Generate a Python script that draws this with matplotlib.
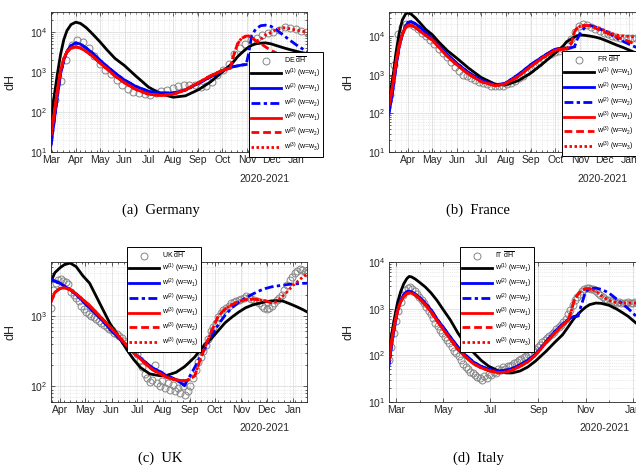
import numpy as np
import matplotlib
matplotlib.use('Agg')
import matplotlib.pyplot as plt
import matplotlib.dates as mdates
from matplotlib.ticker import LogLocator, NullFormatter
from datetime import datetime

plt.rcParams['font.family'] = ['Liberation Sans', 'DejaVu Sans']
plt.rcParams['mathtext.fontset'] = 'custom'
plt.rcParams['mathtext.rm'] = 'Liberation Sans'
plt.rcParams['mathtext.it'] = 'Liberation Sans:italic'
plt.rcParams['mathtext.bf'] = 'Liberation Sans:bold'

# all days are counted from 1 March 2020
t0 = mdates.date2num(datetime(2020, 3, 1))

# ---------------- Germany ----------------
de_days = [0, 4, 8, 12, 16, 20, 25, 31, 37, 44, 52, 61, 70, 80, 92, 106, 122, 138, 153, 168,
           184, 199, 214, 224, 228, 233, 238, 244, 247, 251, 256, 262, 268, 275, 282, 290, 300, 310, 320]
de_w1 = [70, 250, 900, 2800, 6500, 11000, 15500, 17800, 16500, 13000, 9000, 5800, 3600, 2200, 1450, 800,
         420, 280, 235, 255, 360, 560, 1000, 1500, 1800, 2400, 3000, 3800, 4200, 4700, 5100, 5300, 5400,
         5100, 4600, 4100, 3600, 3200, 2900]
de_w2a = [15, 60, 250, 900, 2000, 3300, 4600, 5400, 5000, 4000, 3000, 2000, 1400, 950, 630, 440, 330,
          300, 300, 355, 520, 750, 1080, 1310, 1370, 1430, 1500, 1550]
de_w2b = de_w2a + [2900, 8400, 12000, 14500, 15000, 14000, 11500, 8500, 6000, 4300, 3300]
de_w3a = [27, 90, 350, 1100, 2200, 3200, 4000, 4300, 4000, 3300, 2500, 1700, 1200, 800, 540, 370, 280,
          260, 280, 360, 540, 800, 1100, 1260]
de_w3b = de_w3a + [2500, 5000, 7000, 8000, 8000, 7500, 6000, 5200, 4300, 3500, 3000, 2500, 2000, 1700, 1500]
de_w3c = de_w3a + [2500, 5000, 7000, 8000, 8000, 7500, 6000, 6500, 8500, 9800, 11700, 13000, 12000, 11000, 10000]
de_obs_start, de_obs_step = 5, 7
de_obs = [200, 600, 2000, 4800, 6300, 5600, 4000, 2500, 1600, 1150, 880, 650, 470, 370, 320, 295, 280,
          265, 300, 340, 355, 410, 440, 470, 475, 470, 430, 450, 570, 830, 1100, 1600, 2800, 4000, 5200,
          6300, 7200, 8300, 9300, 10000, 11500, 13300, 12800, 12000, 11000, 10000]

# ---------------- France ----------------
fr_days = [7, 10, 13, 16, 20, 24, 28, 31, 35, 40, 46, 53, 61, 70, 80, 92, 106, 122, 140, 152, 168, 183,
           198, 213, 218, 224, 228, 234, 238, 241, 245, 250, 257, 264, 270, 278, 290, 300, 311, 326]
fr_w1 = [200, 450, 1100, 3500, 11500, 26000, 37000, 40000, 37000, 30000, 22000, 15000, 11000, 6800, 4200,
         2650, 1500, 850, 560, 540, 700, 1080, 1900, 3500, 4300, 5600, 7100, 8500, 9500, 10200, 10600,
         10500, 10000, 9400, 8700, 7500, 5900, 4900, 3900, 3000]
fr_w2a = [90, 200, 500, 1500, 5000, 11000, 18000, 22500, 23500, 21000, 17000, 12500, 8600, 5500, 3300,
          1960, 1150, 730, 530, 600, 1000, 1780, 2900, 4500, 4700, 4700, 4800, 5000, 5300]
fr_w2b = fr_w2a + [8000, 11700, 16000, 19000, 17000, 15000, 13000, 9000, 7000, 5500, 4000]
fr_w3a = [150, 300, 700, 2000, 5500, 11000, 16500, 19000, 19000, 17000, 13500, 10500, 8000, 5000, 3000,
          1780, 1050, 660, 520, 580, 900, 1600, 2700, 4200, 4500, 4600, 4700]
fr_w3b = fr_w3a + [6500, 13000, 16000, 18000, 19000, 18500, 16000, 14000, 12000, 9500, 8000, 6500, 5000]
fr_w3c = fr_w3a + [6500, 13000, 16000, 18000, 19000, 18500, 17000, 16000, 13000, 10600, 10000, 9600, 9500]
fr_obs_start, fr_obs_step = 9, 5
fr_obs = [300, 1800, 11000, 17500, 20000, 21000, 18000, 15000, 12000, 10000, 8000, 6200, 4700, 3600, 2800,
          2100, 1600, 1250, 1000, 900, 800, 720, 650, 600, 560, 520, 500, 500, 520, 560, 620, 700, 800,
          950, 1150, 1400, 1700, 2050, 2500, 3000, 3500, 3900, 4200, 4500, 5500, 8500, 13000, 18000,
          21000, 19500, 17000, 15000, 13500, 12000, 11000, 10200, 9500, 9000, 8800, 8700, 8800, 9000,
          9200, 9300]

# ---------------- UK ----------------
uk_days = [20, 25, 31, 36, 43, 50, 58, 66, 78, 90, 98, 110, 118, 126, 137, 141, 150, 157, 168, 178, 182,
           190, 196, 202, 210, 218, 226, 234, 242, 250, 258, 265, 273, 281, 287, 294, 300, 306, 312, 318, 323]
uk_w1 = [3000, 4100, 4800, 5300, 5600, 5000, 3700, 2900, 1500, 780, 560, 330, 240, 185, 150, 147, 141, 143,
         158, 190, 210, 260, 320, 390, 480, 620, 800, 960, 1130, 1300, 1420, 1500, 1580, 1630, 1640, 1620,
         1520, 1420, 1320, 1220, 1130]
uk_w2a = [3300, 3100, 2900, 2650, 2350, 2000, 1620, 1300, 940, 650, 520, 370, 300, 250, 196, 180, 160,
          141, 125, 103]
uk_w2b = uk_w2a + [125, 185, 255, 340, 520, 755, 1020, 1300, 1560, 1790, 2020, 2230, 2430, 2580, 2650,
                   2720, 2780, 2830, 2860, 2890, 2900]
uk_w3a = [1550, 2150, 2450, 2500, 2350, 2050, 1700, 1400, 990, 700, 550, 380, 300, 245, 185, 170, 150,
          134, 123, 120, 123]
uk_w3b = uk_w3a + [140, 230, 355, 610, 1000, 1250, 1440, 1600, 1700, 1720, 1700, 1640, 1520]
uk_w3c = uk_w3a + [140, 230, 355, 610, 1000, 1250, 1440, 1600, 1700, 1720, 1700, 1640, 1520, 1600, 1900,
                   2250, 2700, 3100, 3600, 3900]
uk_obs_start, uk_obs_step = 20, 3
uk_obs = [1300, 2300, 2900, 3200, 3300, 3100, 3000, 2800, 2200, 2000, 1800, 1600, 1400, 1250, 1150, 1050,
          1000, 950, 900, 850, 800, 750, 700, 650, 620, 580, 550, 510, 480, 440, 410, 380, 350, 320, 290,
          240, 190, 150, 130, 115, 125, 200, 110, 100, 120, 95, 110, 90, 105, 85, 95, 80, 100, 75, 85, 100,
          130, 170, 220, 260, 320, 380, 470, 600, 700, 800, 950, 1100, 1200, 1300, 1400, 1500, 1550, 1600,
          1700, 1750, 1800, 1900, 1850, 1750, 1700, 1600, 1500, 1400, 1300, 1250, 1300, 1400, 1500, 1650,
          1800, 2000, 2300, 2700, 3200, 3600, 4000, 4300, 4600, 4400, 4200, 4000]

# ---------------- Italy ----------------
it_days = [-10, -6, -2, 2, 6, 10, 14, 17, 20, 25, 31, 38, 45, 53, 61, 70, 80, 90, 100, 110, 120, 133, 142,
           150, 160, 170, 180, 194, 205, 215, 222, 226, 230, 235, 240, 245, 250, 258, 265, 275, 285, 293,
           300, 310, 322]
it_w1 = [110, 260, 620, 1350, 2300, 3400, 4400, 4900, 4800, 4300, 3600, 2900, 2200, 1500, 950, 580, 300,
         170, 115, 78, 58, 46, 42, 42, 46, 56, 75, 123, 190, 275, 400, 500, 620, 760, 920, 1080, 1220,
         1320, 1300, 1180, 980, 810, 680, 490, 380]
it_w2a = [49, 150, 400, 900, 1500, 2000, 2300, 2360, 2300, 2050, 1700, 1300, 950, 600, 400, 250, 150, 100,
          72, 58, 50, 46, 48, 52, 62, 78, 105, 200, 320, 460, 580, 640, 680, 700]
it_w2b = it_w2a + [1300, 2360, 2650, 2760, 2600, 2170, 1600, 1240, 1000, 690, 500]
it_w3a = [63, 180, 450, 900, 1400, 1800, 2100, 2170, 2150, 1950, 1600, 1200, 870, 550, 360, 225, 135, 92,
          66, 54, 47, 42, 44, 48, 58, 72, 100, 190, 300, 440, 560]
it_w3b = it_w3a + [850, 1500, 2050, 2450, 2700, 2650, 2400]
it_w3c = it_w3a + [850, 1500, 2050, 2450, 2700, 2650, 2400, 1900, 1500, 1350, 1320, 1320, 1320, 1320]
it_obs_start, it_obs_step = -9, 3
it_obs = [80, 150, 300, 550, 900, 1400, 2000, 2500, 2800, 2900, 2700, 2400, 2100, 1800, 1500, 1300, 1100,
          900, 750, 620, 500, 420, 350, 300, 250, 210, 180, 150, 125, 110, 95, 80, 65, 55, 50, 45, 41, 38,
          35, 33, 30, 36, 32, 40, 38, 45, 42, 50, 48, 55, 52, 60, 58, 62, 68, 72, 78, 85, 90, 95, 105, 115,
          130, 140, 150, 170, 190, 210, 230, 260, 290, 320, 360, 400, 450, 520, 600, 750, 950, 1200, 1500,
          1800, 2100, 2400, 2600, 2750, 2800, 2700, 2600, 2400, 2200, 2000, 1800, 1650, 1550, 1500, 1450,
          1400, 1350, 1400, 1350, 1300, 1350, 1400, 1300, 1350, 1400, 1300, 1350, 1400, 1300]

labels = [r'w$^{(1)}$ (w=w$_1$)', r'w$^{(2)}$ (w=w$_1$)', r'w$^{(2)}$ (w=w$_2$)',
          r'w$^{(3)}$ (w=w$_1$)', r'w$^{(3)}$ (w=w$_2$)', r'w$^{(3)}$ (w=w$_3$)']

W, H = 636, 471
fig = plt.figure(figsize=(W / 100, H / 100), dpi=100)


def fx(px):
    return px / W


def fy(py):
    return 1 - py / H


panels = [
    dict(tag='DE', days=de_days, w1=de_w1, w2a=de_w2a, w2b=de_w2b, w3a=de_w3a, w3b=de_w3b, w3c=de_w3c,
         o0=de_obs_start, ost=de_obs_step, obs=de_obs, xl=(0, 320), yl=(10, 3.2e4),
         pos=(51, 152), leg=(249, 52), year=(265, 179), cap=('(a)  Germany', 161, 210), bimonth=False),
    dict(tag='FR', days=fr_days, w1=fr_w1, w2a=fr_w2a, w2b=fr_w2b, w3a=fr_w3a, w3b=fr_w3b, w3c=fr_w3c,
         o0=fr_obs_start, ost=fr_obs_step, obs=fr_obs, xl=(7.5, 325.5), yl=(10, 4.2e4),
         pos=(389, 152), leg=(562, 51), year=(602, 179), cap=('(b)  France', 478, 210), bimonth=False),
    dict(tag='UK', days=uk_days, w1=uk_w1, w2a=uk_w2a, w2b=uk_w2b, w3a=uk_w3a, w3b=uk_w3b, w3c=uk_w3c,
         o0=uk_obs_start, ost=uk_obs_step, obs=uk_obs, xl=(20.4, 322.6), yl=(60, 5800),
         pos=(51, 402), leg=(127, 247), year=(265, 428), cap=('(c)  UK', 160, 458), bimonth=False),
    dict(tag='IT', days=it_days, w1=it_w1, w2a=it_w2a, w2b=it_w2b, w3a=it_w3a, w3b=it_w3b, w3c=it_w3c,
         o0=it_obs_start, ost=it_obs_step, obs=it_obs, xl=(-9, 321.5), yl=(10, 1e4),
         pos=(389, 402), leg=(460, 247), year=(604, 428), cap=('(d)  Italy', 478, 458), bimonth=True),
]

for p in panels:
    left, bottom = p['pos']
    ax = fig.add_axes([fx(left), fy(bottom), 256 / W, 140 / H])
    days = np.array(p['days'], dtype=float)
    od = p['o0'] + p['ost'] * np.arange(len(p['obs']))
    ax.plot(t0 + od, p['obs'], 'o', mfc='none', mec='#858585', ms=5, mew=0.7,
            label=p['tag'] + r' $\overline{\mathrm{dH}}$')
    ax.plot(t0 + days[:len(p['w1'])], p['w1'], color='k', lw=2, label=labels[0])
    ax.plot(t0 + days[:len(p['w2a'])], p['w2a'], color='#0000ff', lw=2, label=labels[1])
    ax.plot(t0 + days[:len(p['w2b'])], p['w2b'], color='#0000ff', lw=2, dashes=(3.2, 1.2, 1.2, 1.2),
            label=labels[2])
    ax.plot(t0 + days[:len(p['w3a'])], p['w3a'], color='#ff0000', lw=2, label=labels[3])
    ax.plot(t0 + days[:len(p['w3b'])], p['w3b'], color='#ff0000', lw=2, dashes=(2.8, 1.4), label=labels[4])
    ax.plot(t0 + days[:len(p['w3c'])], p['w3c'], color='#ff0000', lw=2, dashes=(0.9, 0.9), label=labels[5])

    ax.set_yscale('log')
    ax.set_xlim(t0 + p['xl'][0], t0 + p['xl'][1])
    ax.set_ylim(*p['yl'])
    ax.yaxis.set_major_locator(LogLocator(base=10))
    ax.yaxis.set_minor_locator(LogLocator(base=10, subs=np.arange(2, 10)))
    ax.yaxis.set_minor_formatter(NullFormatter())
    if p['bimonth']:
        ax.xaxis.set_major_locator(mdates.MonthLocator(bymonth=[1, 3, 5, 7, 9, 11]))
        ax.xaxis.set_minor_locator(mdates.MonthLocator())
    else:
        ax.xaxis.set_major_locator(mdates.MonthLocator())
        ax.xaxis.set_minor_locator(mdates.WeekdayLocator(byweekday=mdates.MO))
    ax.xaxis.set_major_formatter(mdates.DateFormatter('%b'))
    ax.xaxis.set_minor_formatter(NullFormatter())

    ax.set_axisbelow(True)
    ax.grid(True, which='major', color='#dedede', lw=0.6, ls='-')
    ax.grid(True, which='minor', color='#d8d8d8', lw=0.5, ls=':')
    ax.tick_params(which='both', direction='in', top=True, right=True, colors='#262626',
                   labelsize=7.5, pad=2.5, width=0.5)
    ax.tick_params(which='major', length=3)
    ax.tick_params(which='minor', length=1.5)
    for s in ax.spines.values():
        s.set_color('#262626')
        s.set_linewidth(0.6)
    ax.set_ylabel('dH', fontsize=9, color='#262626')
    ax.yaxis.set_label_coords(-0.135, 0.5)

    lg = ax.legend(loc='upper left', bbox_to_anchor=(fx(p['leg'][0]), fy(p['leg'][1])),
                   bbox_transform=fig.transFigure, borderaxespad=0, fontsize=5, labelspacing=0.22,
                   handlelength=4.2, handletextpad=0.5, borderpad=0.35, fancybox=False,
                   framealpha=1, edgecolor='k')
    lg.get_frame().set_linewidth(0.7)

    fig.text(fx(p['year'][0]), fy(p['year'][1]), '2020-2021', ha='center', va='center',
             fontsize=7.5, color='#262626')
    fig.text(fx(p['cap'][1]), fy(p['cap'][2]), p['cap'][0], ha='center', va='center',
             fontsize=10.5, family='Liberation Serif')

fig.savefig('out.png', dpi=100)
